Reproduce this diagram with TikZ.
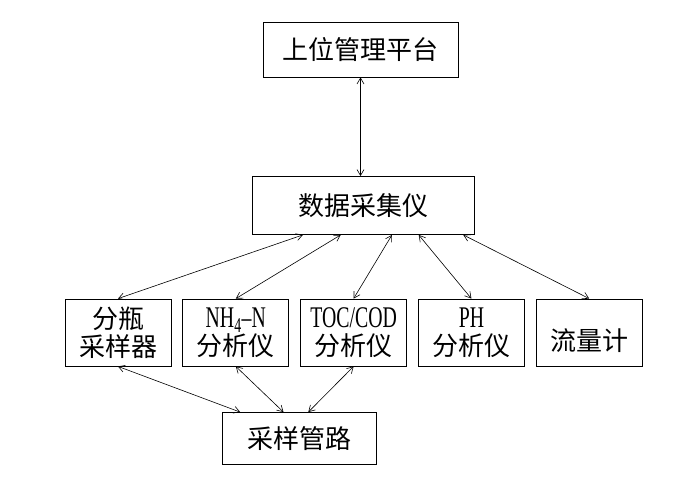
\documentclass[tikz,border=0pt]{standalone}
\usepackage{fontspec}
\setmainfont{Noto Sans CJK SC}
\newfontfamily\latinfont[FakeStretch=0.66]{Liberation Serif}
\usetikzlibrary{arrows.meta,calc,positioning}

\tikzset{
  box/.style={draw, line width=0.8pt, inner sep=0pt, minimum width=106pt, minimum height=67pt,
    align=center, font=\fontsize{26}{28}\selectfont},
  link/.style={line width=0.6pt, {Straight Barb[length=6pt,width=7pt]}-{Straight Barb[length=6pt,width=7pt]}}
}
\newcommand\lat[1]{{\latinfont\fontsize{30}{28}\selectfont #1}}

\begin{document}
\begin{tikzpicture}[x=1pt,y=-1pt]
  \useasboundingbox (0,0) rectangle (700,482);

  \node[box, minimum width=195pt, minimum height=55pt] (host) at (360.5,49.5) {上位管理平台};
  \node[box, minimum width=222pt, minimum height=58pt] (daq) at (363,205.5) {数据采集仪};
  \node[box, minimum width=154pt, minimum height=52pt] (pipe) at (299,438.5) {采样管路};

  % instruments
  \foreach \name/\txt [count=\i from 0] in {sampler/{分瓶\\采样器},
      nh/{\lat{NH\textsubscript{4}–N}\\分析仪},
      toc/{\lat{TOC/COD}\\分析仪},
      ph/{\lat{PH}\\分析仪},
      flow/{\raisebox{-8pt}[\height][\depth]{流量计}}}
    \node[box] (\name) at (118+117.8*\i,332.5) {\txt};

  \draw[link] (host.south) -- (host.south |- daq.north);
  \foreach \name/\pos in {sampler/0.23, nh/0.40, toc/0.63, ph/0.75, flow/0.95}
    \draw[link] (\name.north) -- ($(daq.south west)!\pos!(daq.south east)$);
  \foreach \name/\pos in {sampler/0.12, nh/0.40, toc/0.56}
    \draw[link] (\name.south) -- ($(pipe.north west)!\pos!(pipe.north east)$);
\end{tikzpicture}
\end{document}
